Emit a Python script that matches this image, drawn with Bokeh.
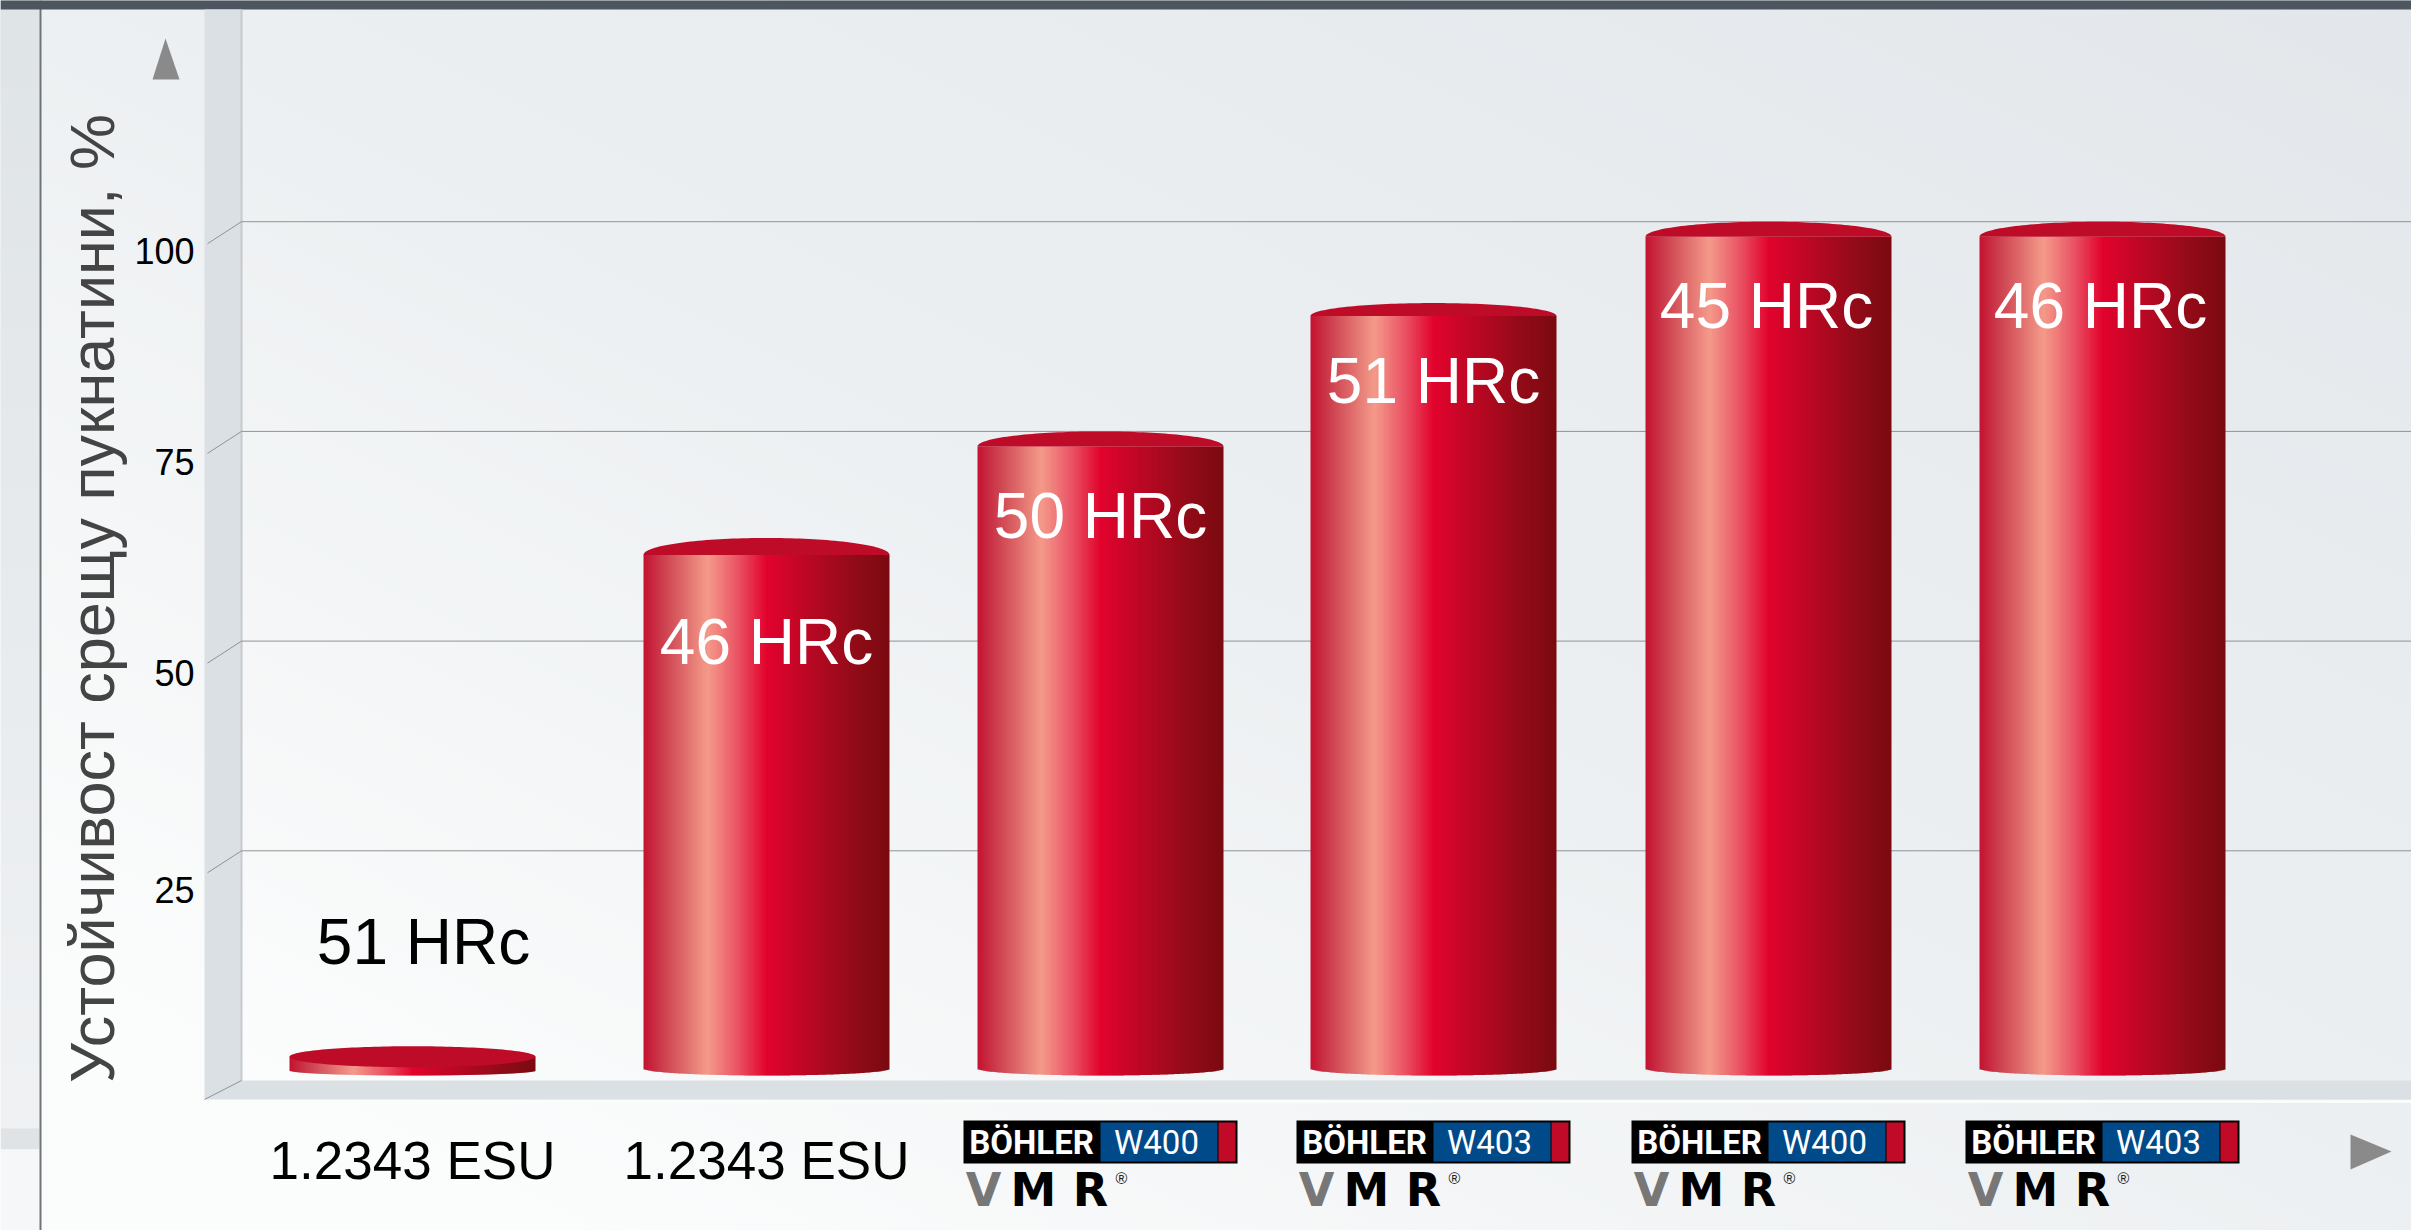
import numpy as np
from bokeh.plotting import figure
from bokeh.embed import file_html
from bokeh.resources import INLINE
from bokeh.core.properties import value

# ---- data ----
materials = ["1.2343 ESU", "1.2343 ESU", "W400", "W403", "W400", "W403"]
crack_resistance = [1.7, 62.3, 75, 90.3, 100, 100]
hardness = ["51 HRc", "46 HRc", "50 HRc", "51 HRc", "45 HRc", "46 HRc"]
y_ticks = [25, 50, 75, 100]
y_title = "Устойчивост срещу пукнатини, %"

# ---- layout ----
W, H = 2411, 1230
Y0_PX, PX_PER_UNIT = 1060.0, 8.388
def vy(px):
    return (Y0_PX - np.asarray(px, dtype=float)) / PX_PER_UNIT

bar_cx = [412, 766, 1100, 1433, 1768, 2102]
cap_height = [10.5, 17, 15, 13, 15, 15]
BAR_W = 246
label_cx = [423, 766, 1100, 1433, 1766, 2100]
label_cy = [941, 641, 515, 380, 305, 305]
tick_label_cy = [889, 672, 461, 250]
FONT = value("Liberation Sans")
LOGO = value("Roboto")
WIDE = value("DejaVu Sans")

stops_t = [0, .10, .26, .38, .50, .65, .85, 1]
stops_c = ["#c31230", "#d04a55", "#f49a8a", "#ea5566", "#e2032d", "#bf0725", "#930b18", "#7a0a10"]
rgb = np.array([[int(c[i:i+2], 16) for i in (1, 3, 5)] for c in stops_c], float)
def grad(t):
    return "#%02x%02x%02x" % tuple(int(round(np.interp(t, stops_t, rgb[:, k]))) for k in range(3))

p = figure(width=W, height=H, x_range=(0, W), y_range=(float(vy(H)), float(vy(0))),
           output_backend="svg", toolbar_location=None, min_border=0,
           background_fill_color=None, border_fill_color=None, outline_line_color=None)
p.styles = {"position": "fixed", "left": "0px", "top": "0px",
            "background": "linear-gradient(to bottom left,#e3e7eb 0%,#edf0f2 50%,#fbfcfc 88%)"}
p.axis.visible = False
p.grid.visible = False

# left panel and top bar
rows = np.arange(0, 1128, 8)
p.quad(left=0, right=39, top=vy(rows), bottom=vy(rows + 9),
       fill_color=["#%02x%02x%02x" % tuple(int(a + (b - a) * r / 1128) for a, b in zip((223, 228, 231), (240, 242, 244))) for r in rows],
       line_color=None)
p.quad(left=0, right=39, top=vy(1128), bottom=vy(1149), fill_color="#dfe3e6", line_color=None)
p.quad(left=0, right=39, top=vy(1149), bottom=vy(H), fill_color="#f5f7f8", line_color=None)
p.segment(x0=40, x1=40, y0=vy(0), y1=vy(H), line_color="#6f7477", line_width=2)
p.quad(left=0, right=W, top=vy(-1), bottom=vy(9), fill_color="#4d565e", line_color=None)

# walls
p.patch(x=[204, 241, 241, W, W, 204], y=vy([9, 9, 1080, 1080, 1099, 1099]), fill_color="#dbe0e4", line_color=None)
p.segment(x0=241, x1=241, y0=vy(9), y1=vy(1080), line_color="#c5cacd", line_width=2)
p.segment(x0=204, x1=W, y0=vy(1101), y1=vy(1101), line_color="#fbfcfc", line_width=3)
p.segment(x0=241, x1=204, y0=vy(1080), y1=vy(1099), line_color="#8d9397", line_width=1)

# gridlines through the tick values
ticks = np.array(y_ticks, float)
p.segment(x0=241, x1=W, y0=ticks, y1=ticks, line_color="#8d9397", line_width=1)
p.segment(x0=241, x1=207, y0=ticks, y1=ticks - 22 / PX_PER_UNIT, line_color="#8d9397", line_width=1)

# cylinders
BOT_FLAT, BOT_MID = 1068, 1075
for i, (cx, v, b) in enumerate(zip(bar_cx, crack_resistance, cap_height)):
    disc = v < 5
    top_px = Y0_PX - v * PX_PER_UNIT
    cap_px = top_px + b
    flat = 1070 if disc else BOT_FLAT
    left = cx - BAR_W / 2
    xs = np.arange(0, BAR_W, 2.0)
    mids = (xs + 1) / BAR_W
    edge = np.sqrt(np.clip(1 - (2 * mids - 1) ** 2, 0, 1))
    bottoms = flat + (BOT_MID - flat) * edge
    # strips overlap their right neighbour so that no seam shows
    rights = np.minimum(left + xs + 3, left + BAR_W)
    p.quad(left=left + xs, right=rights, top=float(vy(cap_px)), bottom=vy(bottoms),
           fill_color=[grad(t) for t in mids], line_color=None)
    th = np.linspace(0, np.pi, 81) if not disc else np.linspace(0, 2 * np.pi, 161)
    p.patch(x=cx - BAR_W / 2 * np.cos(th), y=vy(cap_px - b * np.sin(th)), fill_color="#be0b28", line_color=None)

# hardness labels
p.text(x=label_cx, y=vy(label_cy), text=hardness, text_font=FONT, text_font_size="64px",
       text_color=["#000000"] + ["#ffffff"] * 5, text_align="center", text_baseline="middle")

# tick labels and axis title
p.text(x=194, y=vy(tick_label_cy), text=[str(t) for t in y_ticks], text_font=FONT, text_font_size="36px",
       text_color="#000000", text_align="right", text_baseline="middle")
p.text(x=[91], y=[float(vy(598))], text=[y_title], text_font=FONT, text_font_size="63px", angle=np.pi / 2,
       text_color="#444444", text_align="center", text_baseline="middle")

# arrows
p.patch(x=[165, 152, 179], y=vy([38, 79, 79]), fill_color="#8a8a8a", line_color=None)
p.patch(x=[2350, 2350, 2391], y=vy([1134, 1169, 1151]), fill_color="#8a8a8a", line_color=None)

# category labels
for cx, m in zip(bar_cx, materials):
    if m.startswith("W"):
        x0 = cx - 137
        p.quad(left=x0, right=x0 + 274, top=float(vy(1120)), bottom=float(vy(1163)), fill_color="#000000", line_color=None)
        p.quad(left=x0 + 137, right=x0 + 254, top=float(vy(1122)), bottom=float(vy(1161)), fill_color="#004a8a", line_color=None)
        p.quad(left=x0 + 255, right=x0 + 272, top=float(vy(1122)), bottom=float(vy(1161)), fill_color="#c00a28", line_color=None)
        p.text(x=[x0 + 68], y=[float(vy(1142))], text=["BÖHLER"], text_font=LOGO, text_font_size="33px",
               text_font_style="bold", text_color="#ffffff", text_align="center", text_baseline="middle")
        p.text(x=[x0 + 193], y=[float(vy(1142))], text=[m], text_font=LOGO, text_font_size="33px",
               text_color="#ffffff", text_align="center", text_baseline="middle")
        p.text(x=[x0 + 20], y=[float(vy(1189))], text=["V"], text_font=WIDE, text_font_size="46px",
               text_font_style="bold", text_color="#777777", text_align="center", text_baseline="middle")
        p.text(x=[x0 + 70, x0 + 127], y=[float(vy(1189))] * 2, text=["M", "R"], text_font=WIDE, text_font_size="46px",
               text_font_style="bold", text_color="#000000", text_align="center", text_baseline="middle")
        p.text(x=[x0 + 158], y=[float(vy(1178))], text=["®"], text_font=FONT, text_font_size="16px",
               text_color="#222222", text_align="center", text_baseline="middle")
    else:
        p.text(x=[cx], y=[float(vy(1160))], text=[m], text_font=FONT, text_font_size="53px",
               text_color="#000000", text_align="center", text_baseline="middle")

open("out.html", "w").write(file_html(p, INLINE))
